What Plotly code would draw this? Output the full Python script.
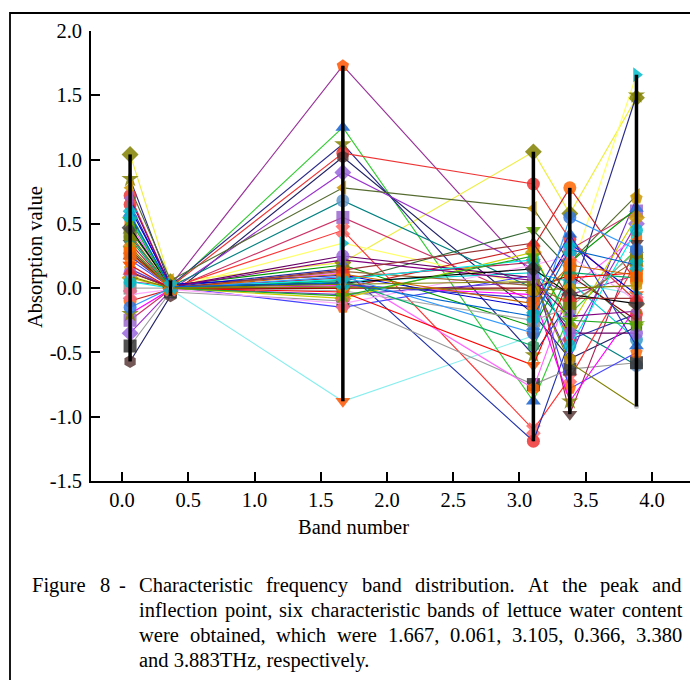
import plotly.graph_objects as go
import numpy as np

# ---------------- data ----------------
band_positions = [0.061, 0.366, 1.667, 3.105, 3.380, 3.883]

band_0061 = [0.05, 0.18, 0.58, 1.04, 0.10, 0.85, 0.72, -0.57, -0.35, 0.78, 0.40, -0.25, 0.30, 0.65,
             0.30, -0.10, -0.45, 0.50, 0.22, 0.35, -0.20, 0.15, 0.45, 0.55, 0.00, 0.28, 0.62, 0.08,
             0.12, 0.38, -0.05, 0.25, 0.42, 0.18, 0.05, 0.70, 0.32, 0.47, -0.15, 0.53, 0.27, 0.13,
             0.57, 0.09]
band_0366 = [0.02, -0.01, 0.00, 0.05, 0.00, 0.02, 0.01, -0.06, -0.02, 0.06, 0.01, -0.01, 0.00, 0.01,
             0.00, -0.01, -0.03, 0.00, 0.01, 0.00, -0.01, 0.00, 0.02, 0.01, 0.00, 0.00, 0.03, 0.00,
             0.01, 0.00, -0.01, 0.01, 0.00, 0.00, 0.00, 0.01, 0.00, 0.01, 0.00, 0.00, 0.00, 0.00,
             0.01, 0.00]
band_1667 = [1.73, -0.88, 1.25, 0.20, 0.35, 1.12, 1.05, 1.02, 0.90, 0.78, 0.68, 0.55, 0.45, 0.15,
             0.05, 0.00, -0.10, 0.12, -0.15, 0.08, 0.02, -0.05, 0.18, 0.05, -0.02, 0.00, 0.10, -0.08,
             0.25, 0.06, -0.12, 0.03, 0.13, -0.03, 0.07, 0.22, 0.01, 0.04, 0.09, -0.06, 0.11, 0.14,
             0.04, 0.03]
band_3105 = [0.10, -0.37, -0.88, 1.06, 0.02, -0.52, 0.81, -0.20, 0.15, 0.62, 0.00, -0.10, -1.10, -1.19,
             0.45, 0.32, -0.75, -0.78, 0.10, 0.20, -0.05, 0.05, -0.30, 0.12, -0.25, 0.00, -0.15, 0.28,
             0.08, -0.45, 0.18, -0.08, 0.02, -0.60, 0.22, 0.06, -0.02, 0.15, -0.35, 0.25, -0.12, 0.35,
             -0.22, 0.05]
band_3380 = [-0.05, 0.05, -0.20, 0.58, 0.10, -0.10, 0.38, -0.55, -0.40, 0.20, -0.30, 0.30, -0.70, -0.40,
             0.15, 0.78, -0.63, 0.00, -0.78, -0.98, -0.88, -0.55, 0.20, 0.05, -0.15, 0.10, 0.35, -0.30,
             -0.35, 0.12, 0.25, 0.42, -0.12, 0.08, -0.45, -0.22, 0.00, -0.05, 0.55, -0.25, 0.18, -0.08,
             0.30, -0.58]
band_3883 = [0.10, -0.05, 0.30, 1.48, 1.66, 1.50, -0.10, -0.30, 0.50, 0.72, -0.60, 0.60, 0.20, -0.20,
             -0.30, 0.05, -0.58, 0.40, -0.50, 0.35, -0.15, 0.70, 0.62, -0.40, 0.28, -0.25, -0.05, 0.55,
             -0.35, 0.08, -0.10, -0.45, 0.22, 0.12, 0.45, -0.18, 0.02, -0.12, 0.30, -0.28, 0.10, -0.08,
             0.18, -0.92]

x_tick_values = [0.0, 0.5, 1.0, 1.5, 2.0, 2.5, 3.0, 3.5, 4.0]
x_tick_labels = ["0.0", "0.5", "1.0", "1.5", "2.0", "2.5", "3.0", "3.5", "4.0"]
y_tick_values = [-1.5, -1.0, -0.5, 0.0, 0.5, 1.0, 1.5, 2.0]
y_tick_labels = ["-1.5", "-1.0", "-0.5", "0.0", "0.5", "1.0", "1.5", "2.0"]

x_title = "Band number"
y_title = "Absorption value"
caption_label = ["Figure", "8", "-"]
caption_lines = [
    "Characteristic frequency band distribution. At the peak and",
    "inflection point, six characteristic bands of lettuce water content",
    "were obtained, which were 1.667, 0.061, 3.105, 0.366, 3.380",
    "and 3.883THz, respectively.",
]

# ---------------- styles ----------------
line_colors = ["#993399", "#88EEEE", "#33CC33", "#EEEE44", "#FFFF66", "#2B2B8C", "#EE3333", "#222266",
               "#9933CC", "#556B2F", "#008080", "#CC3366", "#FF3333", "#2233AA", "#336633", "#CC2222",
               "#999999", "#FF66FF", "#4444FF", "#AA2255", "#FF00FF", "#6633CC", "#009900", "#00CCCC",
               "#AAAAAA", "#880000", "#0000CC", "#CCCC00", "#660066", "#00AA66", "#FFAAFF", "#3333CC",
               "#996633", "#FF0000", "#00EEEE", "#800080", "#808000", "#000000", "#3399FF", "#22AA22",
               "#CC6600", "#993333", "#0066CC", "#808000"]
marker_colors = ["#FF5500", "#FF5500", "#1560D0", "#808000", "#00BBCC", "#808000", "#EE3333", "#5A3A3A",
                 "#9966DD", "#CC9900", "#6699CC", "#9966CC", "#FF6666", "#EE3333", "#66AA00", "#FF6600",
                 "#333333", "#FF6600", "#FF6600", "#5A3A3A", "#808000", "#CC9900", "#3377DD", "#3399CC",
                 "#888888", "#AA5555", "#00AACC", "#CC9900", "#9966DD", "#339966", "#EE6688", "#1560D0",
                 "#808000", "#FF5500", "#00BBCC", "#9966CC", "#CC9900", "#444444", "#3377DD", "#66AA00",
                 "#FF6600", "#EE3333", "#00BBCC", "#BBBBBB"]
symbols = ["pentagon", "triangle-down", "triangle-up", "diamond", "triangle-right", "star", "circle",
           "hexagon", "diamond", "triangle-left", "circle", "square", "x", "circle", "triangle-down",
           "circle", "square", "hexagon", "pentagon", "triangle-down", "star", "pentagon", "triangle-up",
           "circle", "square", "hexagon", "triangle-right", "diamond", "circle", "hexagon", "x",
           "triangle-up", "square", "triangle-down", "circle", "triangle-left", "hexagon", "diamond",
           "circle", "star", "square", "triangle-up", "x", "circle"]

FONT = "Liberation Serif"
FS = 20.5

W, H = 690, 680
L, R, T, B = 91, 0, 31, 199
PW, PH = W - L - R, H - T - B


def px(x):
    return (x - L) / PW


def py(y):
    return (H - B - y) / PH


fig = go.Figure()

bands = [band_0061, band_0366, band_1667, band_3105, band_3380, band_3883]
n = len(band_0061)
for i in range(n):
    ys = [b[i] for b in bands]
    fig.add_trace(go.Scatter(
        x=band_positions, y=ys, mode="lines+markers",
        line=dict(color=line_colors[i], width=1.15),
        marker=dict(symbol=symbols[i], color=marker_colors[i], size=13 if i < n - 1 else 5,
                    opacity=0.85, line=dict(width=0)),
        showlegend=False, hoverinfo="skip"))

# vertical range lines at each band (min..max of data)
for bx, b in zip(band_positions, bands):
    fig.add_trace(go.Scatter(x=[bx, bx], y=[float(np.min(b)), float(np.max(b))], mode="lines",
                             line=dict(color="black", width=3.5), showlegend=False, hoverinfo="skip"))

axis_common = dict(showline=True, linecolor="black", linewidth=1.6, ticks="inside", ticklen=9,
                   tickwidth=1.6, tickcolor="black", showgrid=False, zeroline=False, mirror=False,
                   tickfont=dict(family=FONT, size=FS, color="black"))

fig.update_layout(
    width=W, height=H, margin=dict(l=L, r=R, t=T, b=B),
    plot_bgcolor="white", paper_bgcolor="white",
    xaxis=dict(range=[-0.234, 4.287], tickvals=x_tick_values, ticktext=x_tick_labels,
               ticklabelstandoff=0, **axis_common),
    yaxis=dict(range=[-1.5, 2.0], tickvals=y_tick_values, ticktext=y_tick_labels,
               ticklabelstandoff=3, **axis_common),
)

annotations = []
annotations.append(dict(text=x_title, x=px(353), y=py(527), xref="paper", yref="paper",
                        showarrow=False, xanchor="center", yanchor="middle",
                        font=dict(family=FONT, size=FS, color="black")))
annotations.append(dict(text=y_title, x=px(35), y=py(257), xref="paper", yref="paper",
                        showarrow=False, xanchor="center", yanchor="middle", textangle=-90,
                        font=dict(family=FONT, size=FS, color="black")))

# Times-like advance widths (per 1000 em)
TW = {' ': 250, ',': 250, '.': 250, '-': 333, 'A': 722, 'C': 667, 'F': 556, 'H': 722, 'T': 611,
      'a': 444, 'b': 500, 'c': 444, 'd': 500, 'e': 444, 'f': 333, 'g': 500, 'h': 500, 'i': 278,
      'j': 278, 'k': 500, 'l': 278, 'm': 778, 'n': 500, 'o': 500, 'p': 500, 'q': 500, 'r': 333,
      's': 389, 't': 278, 'u': 500, 'v': 500, 'w': 722, 'x': 500, 'y': 500, 'z': 444}


def tw(s):
    return sum(TW.get(c, 500) for c in s) * FS / 1000.0


line_y = [585, 610, 635, 660]
cap_font = dict(family=FONT, size=FS, color="black")
for word, xx in zip(caption_label, [30, 98, 117]):
    annotations.append(dict(text=word, x=px(xx), y=py(line_y[0]), xref="paper", yref="paper",
                            showarrow=False, xanchor="left", yanchor="middle", font=cap_font))
left_edge, right_edge = 137, 680
for li, line in enumerate(caption_lines):
    words = line.split(" ")
    if li < 3:
        widths = [tw(w) for w in words]
        gap = (right_edge - left_edge - sum(widths)) / (len(words) - 1)
        x = left_edge
        for w, wd in zip(words, widths):
            annotations.append(dict(text=w, x=px(x), y=py(line_y[li]), xref="paper", yref="paper",
                                    showarrow=False, xanchor="left", yanchor="middle", font=cap_font))
            x += wd + gap
    else:
        annotations.append(dict(text=line, x=px(left_edge), y=py(line_y[li]), xref="paper",
                                yref="paper", showarrow=False, xanchor="left", yanchor="middle",
                                font=cap_font))

fig.update_layout(annotations=annotations)

# outer figure frame
fig.add_shape(type="rect", xref="paper", yref="paper", x0=px(10), x1=px(720), y0=py(720), y1=py(13),
              line=dict(color="black", width=1.8), fillcolor="rgba(0,0,0,0)", layer="above")

fig.write_html("out.html")
